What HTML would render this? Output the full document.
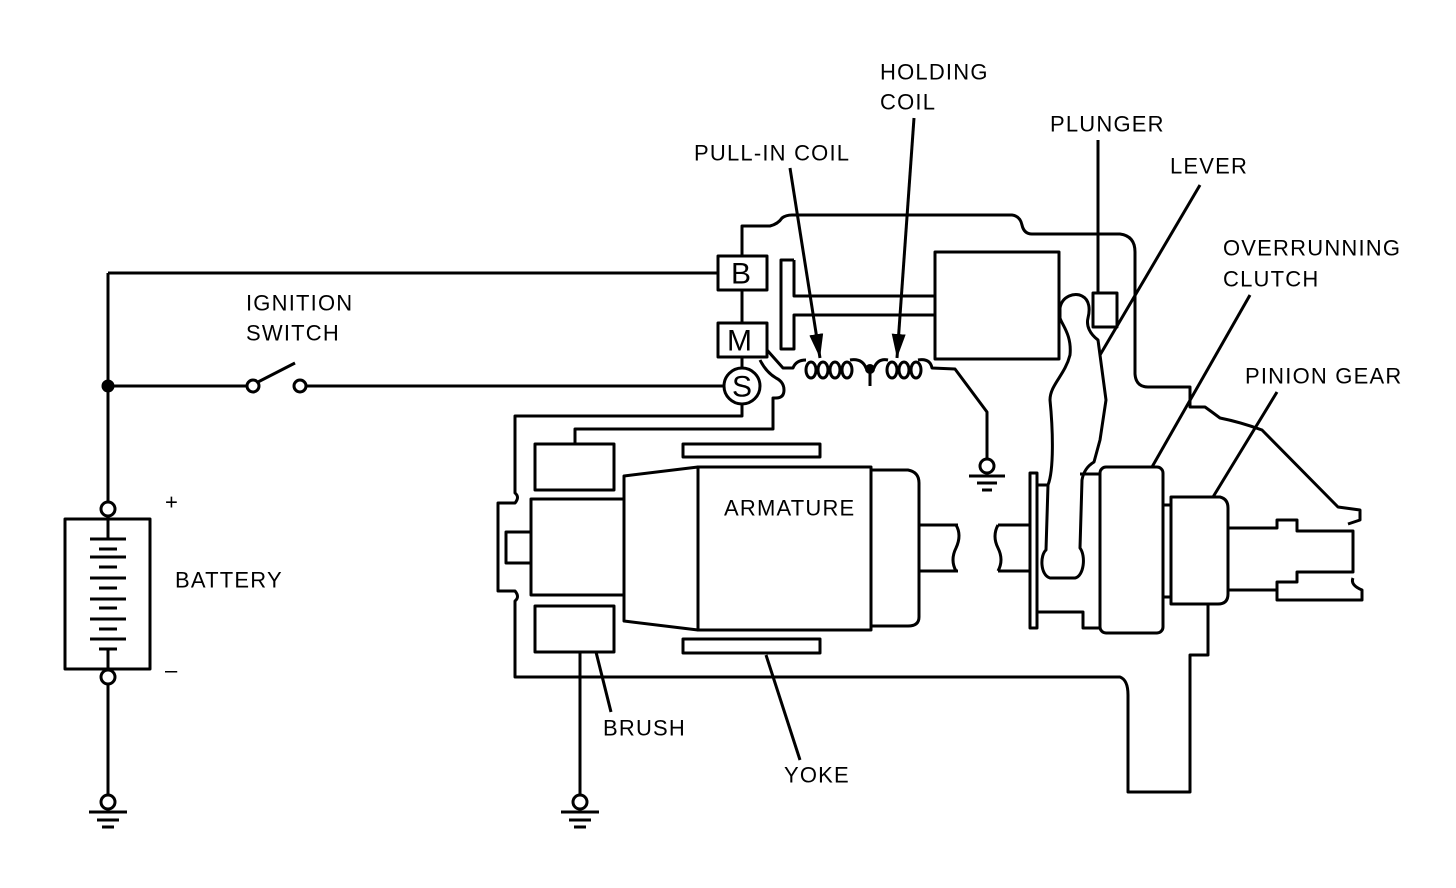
<!DOCTYPE html>
<html><head><meta charset="utf-8"><style>
html,body{margin:0;padding:0;background:#fff;}
svg{display:block;}
text{font-family:"Liberation Sans",Arial,sans-serif;font-size:22px;fill:#000;letter-spacing:1.2px;}
text.big{font-size:30px;letter-spacing:0;}
</style></head><body>
<svg width="1456" height="888" viewBox="0 0 1456 888" xmlns="http://www.w3.org/2000/svg">
<defs><marker id="ah" markerWidth="26" markerHeight="16" refX="24" refY="7" orient="auto" markerUnits="userSpaceOnUse"><path d="M0,0 L24,7 L0,14 Z" fill="#000"/></marker></defs>
<g fill="none" stroke="#000" stroke-width="3" stroke-linejoin="round">
<line x1="108" y1="273" x2="718" y2="273"/>
<line x1="108" y1="273" x2="108" y2="502"/>
<line x1="108" y1="386" x2="247" y2="386"/>
<line x1="306" y1="386" x2="724" y2="386"/>
<circle cx="253" cy="386" r="6" fill="#fff"/>
<circle cx="300" cy="386" r="6" fill="#fff"/>
<line x1="258" y1="382" x2="295" y2="363"/>
<circle cx="108" cy="386" r="5" fill="#000"/>
<circle cx="108" cy="509" r="7" fill="#fff"/>
<rect x="65" y="519" width="85" height="150"/>
<line x1="108" y1="516" x2="108" y2="539"/>
<line x1="90" y1="539" x2="126" y2="539"/><line x1="99" y1="549" x2="117" y2="549"/>
<line x1="90" y1="557" x2="126" y2="557"/><line x1="99" y1="567" x2="117" y2="567"/>
<line x1="90" y1="578" x2="126" y2="578"/><line x1="99" y1="588" x2="117" y2="588"/>
<line x1="90" y1="599" x2="126" y2="599"/><line x1="99" y1="608" x2="117" y2="608"/>
<line x1="90" y1="619" x2="126" y2="619"/><line x1="99" y1="629" x2="117" y2="629"/>
<line x1="90" y1="639" x2="126" y2="639"/><line x1="99" y1="649" x2="117" y2="649"/>
<line x1="108" y1="649" x2="108" y2="670"/>
<circle cx="108" cy="677" r="7" fill="#fff"/>
<line x1="108" y1="684" x2="108" y2="795"/>
<circle cx="108" cy="802" r="7" fill="#fff"/>
<line x1="89" y1="812" x2="127" y2="812"/><line x1="97" y1="820" x2="119" y2="820"/><line x1="102" y1="827" x2="114" y2="827"/>
<rect x="718" y="256" width="49" height="34"/>
<rect x="718" y="323" width="49" height="34"/>
<circle cx="742" cy="386" r="18"/>
<line x1="742" y1="290" x2="742" y2="323"/>
<line x1="742" y1="357" x2="742" y2="368"/>
<path d="M742,256 L742,226 L770,226 Q778,224 782,218 Q786,215 792,215 L1012,215 Q1020,216 1022,225 Q1024,234 1032,234 L1120,234 Q1135,236 1135,252 L1135,374 Q1136,387 1148,387 L1190,387 L1190,407 L1205,407 Q1212,412 1220,418 Q1240,422 1262,430 L1338,507 L1360,510 L1360,520 L1348,524"/>
<path d="M794,260 L781,260 L781,349 L794,349 L794,315 L935,315"/>
<path d="M794,260 L794,296 L935,296"/>
<rect x="935" y="252" width="124" height="107"/>
<path d="M767,350 L783,368 L793,368 Q796,360 806,360"/>
<ellipse cx="811" cy="370" rx="5" ry="8"/><ellipse cx="823" cy="370" rx="5" ry="8"/><ellipse cx="835" cy="370" rx="5" ry="8"/><ellipse cx="847" cy="370" rx="5" ry="8"/>
<path d="M850,360 Q862,358 866,368 L870,370 L874,368 Q878,358 888,360"/>
<ellipse cx="892" cy="370" rx="5" ry="8"/><ellipse cx="904" cy="370" rx="5" ry="8"/><ellipse cx="916" cy="370" rx="5" ry="8"/>
<path d="M918,360 Q930,358 932,368 L955,369 L987,412 L987,459"/>
<line x1="870" y1="370" x2="870" y2="386"/>
<circle cx="987" cy="466" r="7" fill="#fff"/>
<line x1="969" y1="476" x2="1005" y2="476"/><line x1="977" y1="483" x2="997" y2="483"/><line x1="982" y1="490" x2="992" y2="490"/>
<path d="M760,360 Q766,372 776,378 Q784,382 784,390 Q784,398 776,398 L773,398 L773,429 L575,429 L575,444"/>
<path d="M742,404 L742,416 L515,416 L515,493 Q520,497 515,503 L498,503 L498,591 L515,591 Q520,597 515,601 L515,677 L1120,677 Q1128,680 1128,695 L1128,792 L1190,792 L1190,655 L1208,655 L1208,604"/>
<rect x="535" y="444" width="79" height="46"/>
<rect x="535" y="606" width="79" height="46"/>
<rect x="531" y="499" width="93" height="96"/>
<rect x="506" y="532" width="25" height="31"/>
<path d="M624,476 L698,467 L698,630 L624,621 Z"/>
<rect x="698" y="467" width="173" height="163"/>
<path d="M871,470 L908,470 Q919,472 919,483 L919,617 Q919,626 908,626 L871,626"/>
<path d="M919,525 L958,525 M919,571 L958,571 M956,525 Q962,535 956,548 Q950,560 956,571"/>
<path d="M998,525 Q992,536 998,548 Q1004,560 998,571 M998,525 L1030,525 M998,571 L1030,571"/>
<rect x="683" y="444" width="137" height="13"/>
<rect x="683" y="639" width="137" height="14"/>
<line x1="580" y1="652" x2="580" y2="795"/>
<circle cx="580" cy="802" r="7" fill="#fff"/>
<line x1="561" y1="812" x2="599" y2="812"/><line x1="569" y1="820" x2="591" y2="820"/><line x1="574" y1="827" x2="586" y2="827"/>
<rect x="1030" y="473" width="7" height="155"/>
<path d="M1037,485 L1048,485 M1037,612 L1083,612 L1083,628 L1100,628 M1080,474 L1100,474"/>
<rect x="1100" y="467" width="63" height="166" rx="6"/>
<path d="M1163,505 L1171,505 M1163,597 L1171,597"/>
<path d="M1171,497 L1220,497 Q1228,499 1228,508 L1228,594 Q1228,604 1218,604 L1171,604 Z"/>
<path d="M1228,528 L1277,528 L1277,520 L1297,520 L1297,531 L1353,531 L1353,572 L1297,572 L1297,582 L1277,582 L1277,590 L1228,590"/>
<path d="M1277,590 L1277,600 L1362,600 L1362,590 Q1350,585 1353,578"/>
<path d="M1060,308 C1062,296 1075,292 1082,296 C1090,300 1090,310 1088,318 C1086,326 1090,334 1098,340 L1106,400 L1100,440 L1094,462 Q1084,468 1082,480 L1080,548 C1086,556 1084,576 1075,578 L1050,578 C1040,575 1040,555 1046,550 L1048,485 C1054,470 1053,430 1050,400 C1050,385 1065,375 1070,355 C1072,335 1062,325 1060,318 Z"/>
<rect x="1093" y="293" width="24" height="34"/>
<line x1="790" y1="168" x2="820" y2="358" marker-end="url(#ah)"/>
<line x1="914" y1="118" x2="897" y2="358" marker-end="url(#ah)"/>
<line x1="1098" y1="140" x2="1098" y2="293"/>
<line x1="1200" y1="185" x2="1100" y2="355"/>
<line x1="1250" y1="295" x2="1152" y2="467"/>
<line x1="1277" y1="392" x2="1213" y2="497"/>
<line x1="596" y1="652" x2="611" y2="712"/>
<line x1="766" y1="655" x2="800" y2="760"/>
</g>
<circle cx="870" cy="369" r="5" fill="#000"/>
<g dominant-baseline="central">
<text x="880" y="72">HOLDING</text>
<text x="880" y="102">COIL</text>
<text x="1050" y="124">PLUNGER</text>
<text x="694" y="153">PULL-IN COIL</text>
<text x="1170" y="166">LEVER</text>
<text x="1223" y="248">OVERRUNNING</text>
<text x="1223" y="279">CLUTCH</text>
<text x="1245" y="376">PINION GEAR</text>
<text x="246" y="303">IGNITION</text>
<text x="246" y="333">SWITCH</text>
<text x="175" y="580">BATTERY</text>
<text x="724" y="508">ARMATURE</text>
<text x="603" y="728">BRUSH</text>
<text x="784" y="775">YOKE</text>
<text x="165" y="502">+</text>
<text x="165" y="670">–</text>
<text class="big" x="731" y="274">B</text>
<text class="big" x="727" y="341">M</text>
<text class="big" x="732" y="387">S</text>
</g>
</svg>
</body></html>
